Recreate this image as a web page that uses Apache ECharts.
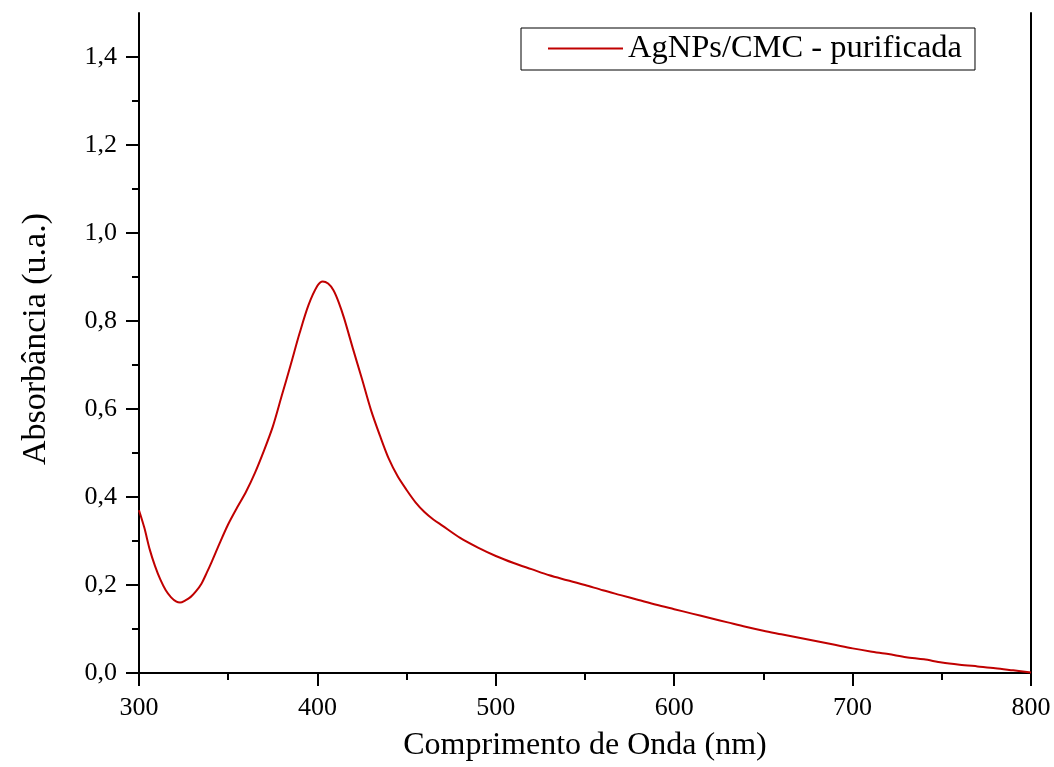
<!DOCTYPE html>
<html>
<head>
<meta charset="utf-8">
<script src="https://cdn.jsdelivr.net/npm/echarts@6/dist/echarts.min.js"></script>
<style>html,body{margin:0;padding:0;background:#fff}#c{width:1054px;height:767px}</style>
</head>
<body>
<div id="c"></div>
<script>
const wavelengths = [300,303,306,309,312,315,318,321,323,326,329,332,335,338,341,345,350,355,360,365,370,375,380,385,390,395,400,403,406,409,412,415,420,425,430,435,440,445,450,455,460,465,470,480,490,500,510,520,530,540,550,560,570,580,590,600,610,620,630,640,650,660,670,680,690,700,710,720,730,740,750,760,770,780,790,800];
const absorbance = [0.370,0.330,0.281,0.243,0.212,0.188,0.172,0.162,0.160,0.165,0.173,0.186,0.203,0.228,0.255,0.293,0.338,0.376,0.412,0.455,0.505,0.560,0.630,0.700,0.772,0.836,0.880,0.890,0.885,0.870,0.842,0.806,0.736,0.668,0.598,0.540,0.487,0.447,0.416,0.388,0.366,0.349,0.335,0.307,0.285,0.266,0.250,0.236,0.222,0.211,0.200,0.188,0.177,0.166,0.155,0.145,0.135,0.125,0.115,0.105,0.096,0.088,0.080,0.072,0.064,0.056,0.049,0.043,0.036,0.031,0.024,0.019,0.015,0.011,0.006,0.001];
const yMajorTicks = [0,0.2,0.4,0.6,0.8,1.0,1.2,1.4];
const yMinorTicks = [0.1,0.3,0.5,0.7,0.9,1.1,1.3];
const seriesName = 'AgNPs/CMC - purificada';
const xTitle = 'Comprimento de Onda (nm)';
const yTitle = 'Absorbância (u.a.)';

const FONT = '"Liberation Serif","Times New Roman",serif';
const data = wavelengths.map((w,i)=>[w, absorbance[i]]);
const chart = echarts.init(document.getElementById('c'), null, {renderer:'canvas'});
const axisLine = {show:true, lineStyle:{color:'#000', width:2}};
chart.setOption({
  animation:false,
  backgroundColor:'#fff',
  grid:{left:139, right:23, top:13, bottom:93, containLabel:false},
  legend:{
    show:true, left:521, top:28, orient:'horizontal',
    padding:[4,13,5,27], borderColor:'#000', borderWidth:1,
    icon:'rect', itemWidth:75, itemHeight:2,
    textStyle:{fontFamily:FONT, fontSize:32.5, color:'#000'},
    data:[seriesName]
  },
  xAxis:[{
    type:'value', min:300, max:800, interval:100, position:'bottom',
    axisLine:axisLine,
    axisTick:{show:true, inside:false, length:13, lineStyle:{color:'#000', width:2}},
    minorTick:{show:true, splitNumber:2, length:7, lineStyle:{color:'#000', width:2}},
    splitLine:{show:false}, minorSplitLine:{show:false},
    axisLabel:{fontFamily:FONT, fontSize:26, color:'#000', margin:22},
    name:xTitle, nameLocation:'middle', nameGap:57,
    nameTextStyle:{fontFamily:FONT, fontSize:32, color:'#000'}
  },{
    type:'value', min:300, max:800, position:'top',
    axisLine:axisLine, axisTick:{show:false}, axisLabel:{show:false}, splitLine:{show:false}
  }],
  yAxis:[{
    type:'value', min:0, max:1.5, interval:0.1, position:'left',
    axisLine:axisLine,
    axisTick:{show:true, inside:false, length:13, customValues:yMajorTicks, lineStyle:{color:'#000', width:2}},
    splitLine:{show:false},
    axisLabel:{customValues:yMajorTicks, fontFamily:FONT, fontSize:26, color:'#000', margin:22,
      formatter:v=>v.toFixed(1).replace('.',',')},
    name:yTitle, nameLocation:'middle', nameGap:86, nameRotate:90,
    nameTextStyle:{fontFamily:FONT, fontSize:34, color:'#000', padding:[0,0,0,8]}
  },{
    type:'value', min:0, max:1.5, interval:0.1, position:'left',
    axisLine:{show:false},
    axisTick:{show:true, inside:false, length:7, customValues:yMinorTicks, lineStyle:{color:'#000', width:2}},
    axisLabel:{show:false}, splitLine:{show:false}
  },{
    type:'value', min:0, max:1.5, position:'right',
    axisLine:axisLine, axisTick:{show:false}, axisLabel:{show:false}, splitLine:{show:false}
  }],
  series:[{
    name:seriesName, type:'line', data:data, smooth:0.3, symbol:'none',
    xAxisIndex:0, yAxisIndex:0,
    lineStyle:{color:'#c00000', width:2}, itemStyle:{color:'#c00000'}
  }]
});
</script>
</body>
</html>
